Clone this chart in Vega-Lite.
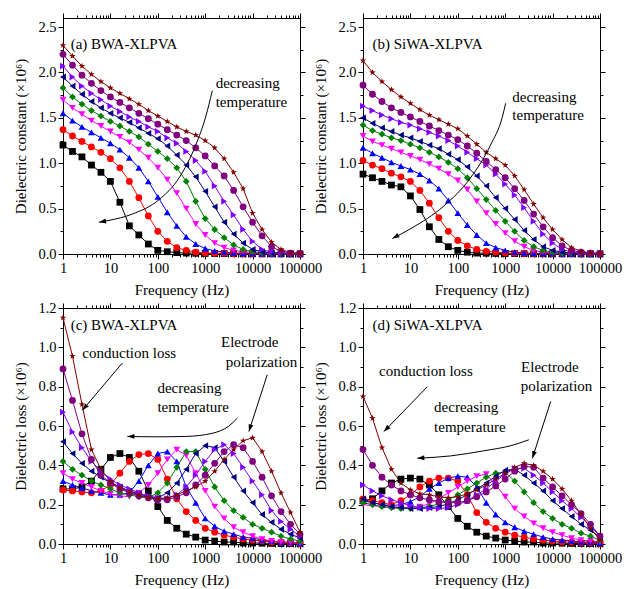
{
"$schema":"https://vega.github.io/schema/vega-lite/v6.json",
"autosize":{"type":"pad"},
"padding":{"left":13,"top":12,"right":0,"bottom":0},
"background":"white",
"datasets":{
"a":[
{"s":1,"f":1,"v":1.20},{"s":1,"f":1.585,"v":1.13},{"s":1,"f":2.512,"v":1.07},{"s":1,"f":3.981,"v":0.98},{"s":1,"f":6.31,"v":0.90},{"s":1,"f":10,"v":0.80},{"s":1,"f":15.85,"v":0.57},{"s":1,"f":25.12,"v":0.31},{"s":1,"f":39.81,"v":0.21},{"s":1,"f":63.1,"v":0.11},{"s":1,"f":100,"v":0.04},{"s":1,"f":158.5,"v":0.025},{"s":1,"f":251.2,"v":0.015},{"s":1,"f":398.1,"v":0.01},{"s":1,"f":631,"v":0.008},{"s":1,"f":1000,"v":0.006},{"s":1,"f":1585,"v":0.005},{"s":1,"f":2512,"v":0.004},{"s":1,"f":3981,"v":0.003},{"s":1,"f":6310,"v":0.002},{"s":1,"f":10000,"v":0.002},{"s":1,"f":15850,"v":0.001},{"s":1,"f":25120,"v":0.001},{"s":1,"f":39810,"v":0.001},{"s":1,"f":63100,"v":0},{"s":1,"f":100000,"v":0},
{"s":2,"f":1,"v":1.37},{"s":2,"f":1.585,"v":1.30},{"s":2,"f":2.512,"v":1.24},{"s":2,"f":3.981,"v":1.18},{"s":2,"f":6.31,"v":1.12},{"s":2,"f":10,"v":1.05},{"s":2,"f":15.85,"v":0.95},{"s":2,"f":25.12,"v":0.80},{"s":2,"f":39.81,"v":0.62},{"s":2,"f":63.1,"v":0.42},{"s":2,"f":100,"v":0.25},{"s":2,"f":158.5,"v":0.14},{"s":2,"f":251.2,"v":0.07},{"s":2,"f":398.1,"v":0.04},{"s":2,"f":631,"v":0.02},{"s":2,"f":1000,"v":0.01},{"s":2,"f":1585,"v":0.008},{"s":2,"f":2512,"v":0.006},{"s":2,"f":3981,"v":0.005},{"s":2,"f":6310,"v":0.004},{"s":2,"f":10000,"v":0.003},{"s":2,"f":15850,"v":0.002},{"s":2,"f":25120,"v":0.002},{"s":2,"f":39810,"v":0.001},{"s":2,"f":63100,"v":0.001},{"s":2,"f":100000,"v":0},
{"s":3,"f":1,"v":1.55},{"s":3,"f":1.585,"v":1.47},{"s":3,"f":2.512,"v":1.40},{"s":3,"f":3.981,"v":1.34},{"s":3,"f":6.31,"v":1.28},{"s":3,"f":10,"v":1.22},{"s":3,"f":15.85,"v":1.15},{"s":3,"f":25.12,"v":1.06},{"s":3,"f":39.81,"v":0.95},{"s":3,"f":63.1,"v":0.80},{"s":3,"f":100,"v":0.63},{"s":3,"f":158.5,"v":0.46},{"s":3,"f":251.2,"v":0.31},{"s":3,"f":398.1,"v":0.19},{"s":3,"f":631,"v":0.11},{"s":3,"f":1000,"v":0.06},{"s":3,"f":1585,"v":0.035},{"s":3,"f":2512,"v":0.02},{"s":3,"f":3981,"v":0.012},{"s":3,"f":6310,"v":0.008},{"s":3,"f":10000,"v":0.006},{"s":3,"f":15850,"v":0.004},{"s":3,"f":25120,"v":0.003},{"s":3,"f":39810,"v":0.002},{"s":3,"f":63100,"v":0.001},{"s":3,"f":100000,"v":0.001},
{"s":4,"f":1,"v":1.70},{"s":4,"f":1.585,"v":1.61},{"s":4,"f":2.512,"v":1.54},{"s":4,"f":3.981,"v":1.47},{"s":4,"f":6.31,"v":1.41},{"s":4,"f":10,"v":1.35},{"s":4,"f":15.85,"v":1.29},{"s":4,"f":25.12,"v":1.23},{"s":4,"f":39.81,"v":1.15},{"s":4,"f":63.1,"v":1.06},{"s":4,"f":100,"v":0.95},{"s":4,"f":158.5,"v":0.82},{"s":4,"f":251.2,"v":0.67},{"s":4,"f":398.1,"v":0.50},{"s":4,"f":631,"v":0.33},{"s":4,"f":1000,"v":0.21},{"s":4,"f":1585,"v":0.12},{"s":4,"f":2512,"v":0.07},{"s":4,"f":3981,"v":0.04},{"s":4,"f":6310,"v":0.025},{"s":4,"f":10000,"v":0.015},{"s":4,"f":15850,"v":0.01},{"s":4,"f":25120,"v":0.007},{"s":4,"f":39810,"v":0.005},{"s":4,"f":63100,"v":0.003},{"s":4,"f":100000,"v":0.002},
{"s":5,"f":1,"v":1.83},{"s":5,"f":1.585,"v":1.73},{"s":5,"f":2.512,"v":1.65},{"s":5,"f":3.981,"v":1.58},{"s":5,"f":6.31,"v":1.52},{"s":5,"f":10,"v":1.46},{"s":5,"f":15.85,"v":1.41},{"s":5,"f":25.12,"v":1.35},{"s":5,"f":39.81,"v":1.29},{"s":5,"f":63.1,"v":1.21},{"s":5,"f":100,"v":1.13},{"s":5,"f":158.5,"v":1.05},{"s":5,"f":251.2,"v":0.95},{"s":5,"f":398.1,"v":0.80},{"s":5,"f":631,"v":0.58},{"s":5,"f":1000,"v":0.39},{"s":5,"f":1585,"v":0.27},{"s":5,"f":2512,"v":0.18},{"s":5,"f":3981,"v":0.10},{"s":5,"f":6310,"v":0.05},{"s":5,"f":10000,"v":0.025},{"s":5,"f":15850,"v":0.015},{"s":5,"f":25120,"v":0.01},{"s":5,"f":39810,"v":0.006},{"s":5,"f":63100,"v":0.004},{"s":5,"f":100000,"v":0.003},
{"s":6,"f":1,"v":1.95},{"s":6,"f":1.585,"v":1.85},{"s":6,"f":2.512,"v":1.76},{"s":6,"f":3.981,"v":1.68},{"s":6,"f":6.31,"v":1.61},{"s":6,"f":10,"v":1.55},{"s":6,"f":15.85,"v":1.50},{"s":6,"f":25.12,"v":1.45},{"s":6,"f":39.81,"v":1.39},{"s":6,"f":63.1,"v":1.33},{"s":6,"f":100,"v":1.27},{"s":6,"f":158.5,"v":1.19},{"s":6,"f":251.2,"v":1.09},{"s":6,"f":398.1,"v":0.98},{"s":6,"f":631,"v":0.85},{"s":6,"f":1000,"v":0.69},{"s":6,"f":1585,"v":0.52},{"s":6,"f":2512,"v":0.35},{"s":6,"f":3981,"v":0.22},{"s":6,"f":6310,"v":0.12},{"s":6,"f":10000,"v":0.05},{"s":6,"f":15850,"v":0.025},{"s":6,"f":25120,"v":0.012},{"s":6,"f":39810,"v":0.008},{"s":6,"f":63100,"v":0.005},{"s":6,"f":100000,"v":0.003},
{"s":7,"f":1,"v":2.07},{"s":7,"f":1.585,"v":1.95},{"s":7,"f":2.512,"v":1.85},{"s":7,"f":3.981,"v":1.77},{"s":7,"f":6.31,"v":1.70},{"s":7,"f":10,"v":1.63},{"s":7,"f":15.85,"v":1.57},{"s":7,"f":25.12,"v":1.51},{"s":7,"f":39.81,"v":1.46},{"s":7,"f":63.1,"v":1.40},{"s":7,"f":100,"v":1.35},{"s":7,"f":158.5,"v":1.28},{"s":7,"f":251.2,"v":1.22},{"s":7,"f":398.1,"v":1.13},{"s":7,"f":631,"v":1.03},{"s":7,"f":1000,"v":0.91},{"s":7,"f":1585,"v":0.75},{"s":7,"f":2512,"v":0.58},{"s":7,"f":3981,"v":0.43},{"s":7,"f":6310,"v":0.27},{"s":7,"f":10000,"v":0.14},{"s":7,"f":15850,"v":0.05},{"s":7,"f":25120,"v":0.02},{"s":7,"f":39810,"v":0.01},{"s":7,"f":63100,"v":0.006},{"s":7,"f":100000,"v":0.004},
{"s":8,"f":1,"v":2.20},{"s":8,"f":1.585,"v":2.08},{"s":8,"f":2.512,"v":1.97},{"s":8,"f":3.981,"v":1.88},{"s":8,"f":6.31,"v":1.80},{"s":8,"f":10,"v":1.73},{"s":8,"f":15.85,"v":1.67},{"s":8,"f":25.12,"v":1.61},{"s":8,"f":39.81,"v":1.55},{"s":8,"f":63.1,"v":1.49},{"s":8,"f":100,"v":1.43},{"s":8,"f":158.5,"v":1.37},{"s":8,"f":251.2,"v":1.31},{"s":8,"f":398.1,"v":1.25},{"s":8,"f":631,"v":1.17},{"s":8,"f":1000,"v":1.08},{"s":8,"f":1585,"v":0.97},{"s":8,"f":2512,"v":0.86},{"s":8,"f":3981,"v":0.70},{"s":8,"f":6310,"v":0.52},{"s":8,"f":10000,"v":0.35},{"s":8,"f":15850,"v":0.20},{"s":8,"f":25120,"v":0.08},{"s":8,"f":39810,"v":0.03},{"s":8,"f":63100,"v":0.01},{"s":8,"f":100000,"v":0.006},
{"s":9,"f":1,"v":2.30},{"s":9,"f":1.585,"v":2.18},{"s":9,"f":2.512,"v":2.07},{"s":9,"f":3.981,"v":1.98},{"s":9,"f":6.31,"v":1.90},{"s":9,"f":10,"v":1.83},{"s":9,"f":15.85,"v":1.77},{"s":9,"f":25.12,"v":1.71},{"s":9,"f":39.81,"v":1.65},{"s":9,"f":63.1,"v":1.58},{"s":9,"f":100,"v":1.52},{"s":9,"f":158.5,"v":1.46},{"s":9,"f":251.2,"v":1.40},{"s":9,"f":398.1,"v":1.35},{"s":9,"f":631,"v":1.31},{"s":9,"f":1000,"v":1.25},{"s":9,"f":1585,"v":1.17},{"s":9,"f":2512,"v":1.05},{"s":9,"f":3981,"v":0.90},{"s":9,"f":6310,"v":0.72},{"s":9,"f":10000,"v":0.45},{"s":9,"f":15850,"v":0.27},{"s":9,"f":25120,"v":0.13},{"s":9,"f":39810,"v":0.05},{"s":9,"f":63100,"v":0.015},{"s":9,"f":100000,"v":0.008}
],
"b":[
{"s":1,"f":1,"v":0.88},{"s":1,"f":1.585,"v":0.84},{"s":1,"f":2.512,"v":0.80},{"s":1,"f":3.981,"v":0.76},{"s":1,"f":6.31,"v":0.74},{"s":1,"f":10,"v":0.64},{"s":1,"f":15.85,"v":0.49},{"s":1,"f":25.12,"v":0.30},{"s":1,"f":39.81,"v":0.16},{"s":1,"f":63.1,"v":0.08},{"s":1,"f":100,"v":0.04},{"s":1,"f":158.5,"v":0.02},{"s":1,"f":251.2,"v":0.01},{"s":1,"f":398.1,"v":0.008},{"s":1,"f":631,"v":0.006},{"s":1,"f":1000,"v":0.005},{"s":1,"f":1585,"v":0.004},{"s":1,"f":2512,"v":0.003},{"s":1,"f":3981,"v":0.002},{"s":1,"f":6310,"v":0.002},{"s":1,"f":10000,"v":0.001},{"s":1,"f":15850,"v":0.001},{"s":1,"f":25120,"v":0.001},{"s":1,"f":39810,"v":0},{"s":1,"f":63100,"v":0},{"s":1,"f":100000,"v":0},
{"s":2,"f":1,"v":1.03},{"s":2,"f":1.585,"v":0.98},{"s":2,"f":2.512,"v":0.94},{"s":2,"f":3.981,"v":0.89},{"s":2,"f":6.31,"v":0.85},{"s":2,"f":10,"v":0.80},{"s":2,"f":15.85,"v":0.70},{"s":2,"f":25.12,"v":0.56},{"s":2,"f":39.81,"v":0.40},{"s":2,"f":63.1,"v":0.25},{"s":2,"f":100,"v":0.15},{"s":2,"f":158.5,"v":0.09},{"s":2,"f":251.2,"v":0.05},{"s":2,"f":398.1,"v":0.03},{"s":2,"f":631,"v":0.02},{"s":2,"f":1000,"v":0.01},{"s":2,"f":1585,"v":0.008},{"s":2,"f":2512,"v":0.006},{"s":2,"f":3981,"v":0.005},{"s":2,"f":6310,"v":0.004},{"s":2,"f":10000,"v":0.003},{"s":2,"f":15850,"v":0.002},{"s":2,"f":25120,"v":0.002},{"s":2,"f":39810,"v":0.001},{"s":2,"f":63100,"v":0.001},{"s":2,"f":100000,"v":0},
{"s":3,"f":1,"v":1.17},{"s":3,"f":1.585,"v":1.11},{"s":3,"f":2.512,"v":1.06},{"s":3,"f":3.981,"v":1.01},{"s":3,"f":6.31,"v":0.97},{"s":3,"f":10,"v":0.93},{"s":3,"f":15.85,"v":0.88},{"s":3,"f":25.12,"v":0.81},{"s":3,"f":39.81,"v":0.72},{"s":3,"f":63.1,"v":0.59},{"s":3,"f":100,"v":0.45},{"s":3,"f":158.5,"v":0.32},{"s":3,"f":251.2,"v":0.21},{"s":3,"f":398.1,"v":0.12},{"s":3,"f":631,"v":0.07},{"s":3,"f":1000,"v":0.04},{"s":3,"f":1585,"v":0.02},{"s":3,"f":2512,"v":0.012},{"s":3,"f":3981,"v":0.008},{"s":3,"f":6310,"v":0.006},{"s":3,"f":10000,"v":0.004},{"s":3,"f":15850,"v":0.003},{"s":3,"f":25120,"v":0.002},{"s":3,"f":39810,"v":0.002},{"s":3,"f":63100,"v":0.001},{"s":3,"f":100000,"v":0.001},
{"s":4,"f":1,"v":1.30},{"s":4,"f":1.585,"v":1.24},{"s":4,"f":2.512,"v":1.20},{"s":4,"f":3.981,"v":1.16},{"s":4,"f":6.31,"v":1.12},{"s":4,"f":10,"v":1.08},{"s":4,"f":15.85,"v":1.04},{"s":4,"f":25.12,"v":0.99},{"s":4,"f":39.81,"v":0.94},{"s":4,"f":63.1,"v":0.88},{"s":4,"f":100,"v":0.81},{"s":4,"f":158.5,"v":0.71},{"s":4,"f":251.2,"v":0.58},{"s":4,"f":398.1,"v":0.45},{"s":4,"f":631,"v":0.33},{"s":4,"f":1000,"v":0.23},{"s":4,"f":1585,"v":0.14},{"s":4,"f":2512,"v":0.08},{"s":4,"f":3981,"v":0.04},{"s":4,"f":6310,"v":0.02},{"s":4,"f":10000,"v":0.012},{"s":4,"f":15850,"v":0.008},{"s":4,"f":25120,"v":0.005},{"s":4,"f":39810,"v":0.003},{"s":4,"f":63100,"v":0.002},{"s":4,"f":100000,"v":0.002},
{"s":5,"f":1,"v":1.42},{"s":5,"f":1.585,"v":1.36},{"s":5,"f":2.512,"v":1.32},{"s":5,"f":3.981,"v":1.28},{"s":5,"f":6.31,"v":1.25},{"s":5,"f":10,"v":1.21},{"s":5,"f":15.85,"v":1.17},{"s":5,"f":25.12,"v":1.12},{"s":5,"f":39.81,"v":1.07},{"s":5,"f":63.1,"v":1.01},{"s":5,"f":100,"v":0.94},{"s":5,"f":158.5,"v":0.84},{"s":5,"f":251.2,"v":0.72},{"s":5,"f":398.1,"v":0.60},{"s":5,"f":631,"v":0.48},{"s":5,"f":1000,"v":0.36},{"s":5,"f":1585,"v":0.25},{"s":5,"f":2512,"v":0.15},{"s":5,"f":3981,"v":0.08},{"s":5,"f":6310,"v":0.04},{"s":5,"f":10000,"v":0.02},{"s":5,"f":15850,"v":0.01},{"s":5,"f":25120,"v":0.007},{"s":5,"f":39810,"v":0.005},{"s":5,"f":63100,"v":0.003},{"s":5,"f":100000,"v":0.002},
{"s":6,"f":1,"v":1.50},{"s":6,"f":1.585,"v":1.44},{"s":6,"f":2.512,"v":1.39},{"s":6,"f":3.981,"v":1.35},{"s":6,"f":6.31,"v":1.31},{"s":6,"f":10,"v":1.28},{"s":6,"f":15.85,"v":1.24},{"s":6,"f":25.12,"v":1.20},{"s":6,"f":39.81,"v":1.16},{"s":6,"f":63.1,"v":1.10},{"s":6,"f":100,"v":1.04},{"s":6,"f":158.5,"v":0.96},{"s":6,"f":251.2,"v":0.86},{"s":6,"f":398.1,"v":0.75},{"s":6,"f":631,"v":0.62},{"s":6,"f":1000,"v":0.50},{"s":6,"f":1585,"v":0.38},{"s":6,"f":2512,"v":0.26},{"s":6,"f":3981,"v":0.16},{"s":6,"f":6310,"v":0.08},{"s":6,"f":10000,"v":0.04},{"s":6,"f":15850,"v":0.02},{"s":6,"f":25120,"v":0.01},{"s":6,"f":39810,"v":0.007},{"s":6,"f":63100,"v":0.004},{"s":6,"f":100000,"v":0.003},
{"s":7,"f":1,"v":1.63},{"s":7,"f":1.585,"v":1.58},{"s":7,"f":2.512,"v":1.53},{"s":7,"f":3.981,"v":1.49},{"s":7,"f":6.31,"v":1.45},{"s":7,"f":10,"v":1.42},{"s":7,"f":15.85,"v":1.38},{"s":7,"f":25.12,"v":1.34},{"s":7,"f":39.81,"v":1.30},{"s":7,"f":63.1,"v":1.25},{"s":7,"f":100,"v":1.19},{"s":7,"f":158.5,"v":1.12},{"s":7,"f":251.2,"v":1.05},{"s":7,"f":398.1,"v":0.98},{"s":7,"f":631,"v":0.88},{"s":7,"f":1000,"v":0.77},{"s":7,"f":1585,"v":0.65},{"s":7,"f":2512,"v":0.51},{"s":7,"f":3981,"v":0.36},{"s":7,"f":6310,"v":0.22},{"s":7,"f":10000,"v":0.12},{"s":7,"f":15850,"v":0.05},{"s":7,"f":25120,"v":0.02},{"s":7,"f":39810,"v":0.01},{"s":7,"f":63100,"v":0.006},{"s":7,"f":100000,"v":0.004},
{"s":8,"f":1,"v":1.86},{"s":8,"f":1.585,"v":1.76},{"s":8,"f":2.512,"v":1.68},{"s":8,"f":3.981,"v":1.61},{"s":8,"f":6.31,"v":1.56},{"s":8,"f":10,"v":1.51},{"s":8,"f":15.85,"v":1.46},{"s":8,"f":25.12,"v":1.41},{"s":8,"f":39.81,"v":1.36},{"s":8,"f":63.1,"v":1.31},{"s":8,"f":100,"v":1.26},{"s":8,"f":158.5,"v":1.19},{"s":8,"f":251.2,"v":1.11},{"s":8,"f":398.1,"v":1.02},{"s":8,"f":631,"v":0.93},{"s":8,"f":1000,"v":0.84},{"s":8,"f":1585,"v":0.72},{"s":8,"f":2512,"v":0.59},{"s":8,"f":3981,"v":0.44},{"s":8,"f":6310,"v":0.30},{"s":8,"f":10000,"v":0.18},{"s":8,"f":15850,"v":0.09},{"s":8,"f":25120,"v":0.04},{"s":8,"f":39810,"v":0.02},{"s":8,"f":63100,"v":0.01},{"s":8,"f":100000,"v":0.006},
{"s":9,"f":1,"v":2.13},{"s":9,"f":1.585,"v":2.00},{"s":9,"f":2.512,"v":1.90},{"s":9,"f":3.981,"v":1.81},{"s":9,"f":6.31,"v":1.73},{"s":9,"f":10,"v":1.66},{"s":9,"f":15.85,"v":1.59},{"s":9,"f":25.12,"v":1.53},{"s":9,"f":39.81,"v":1.48},{"s":9,"f":63.1,"v":1.43},{"s":9,"f":100,"v":1.38},{"s":9,"f":158.5,"v":1.30},{"s":9,"f":251.2,"v":1.21},{"s":9,"f":398.1,"v":1.12},{"s":9,"f":631,"v":1.05},{"s":9,"f":1000,"v":0.98},{"s":9,"f":1585,"v":0.86},{"s":9,"f":2512,"v":0.71},{"s":9,"f":3981,"v":0.55},{"s":9,"f":6310,"v":0.40},{"s":9,"f":10000,"v":0.27},{"s":9,"f":15850,"v":0.16},{"s":9,"f":25120,"v":0.07},{"s":9,"f":39810,"v":0.03},{"s":9,"f":63100,"v":0.012},{"s":9,"f":100000,"v":0.008}
],
"c":[
{"s":1,"f":1,"v":0.28},{"s":1,"f":1.585,"v":0.28},{"s":1,"f":2.512,"v":0.29},{"s":1,"f":3.981,"v":0.32},{"s":1,"f":6.31,"v":0.38},{"s":1,"f":10,"v":0.44},{"s":1,"f":15.85,"v":0.46},{"s":1,"f":25.12,"v":0.44},{"s":1,"f":39.81,"v":0.37},{"s":1,"f":63.1,"v":0.27},{"s":1,"f":100,"v":0.19},{"s":1,"f":158.5,"v":0.12},{"s":1,"f":251.2,"v":0.08},{"s":1,"f":398.1,"v":0.05},{"s":1,"f":631,"v":0.035},{"s":1,"f":1000,"v":0.02},{"s":1,"f":1585,"v":0.015},{"s":1,"f":2512,"v":0.01},{"s":1,"f":3981,"v":0.01},{"s":1,"f":6310,"v":0.005},{"s":1,"f":10000,"v":0.005},{"s":1,"f":15850,"v":0.004},{"s":1,"f":25120,"v":0.003},{"s":1,"f":39810,"v":0.002},{"s":1,"f":63100,"v":0.002},{"s":1,"f":100000,"v":0.001},
{"s":2,"f":1,"v":0.275},{"s":2,"f":1.585,"v":0.27},{"s":2,"f":2.512,"v":0.265},{"s":2,"f":3.981,"v":0.26},{"s":2,"f":6.31,"v":0.27},{"s":2,"f":10,"v":0.30},{"s":2,"f":15.85,"v":0.36},{"s":2,"f":25.12,"v":0.42},{"s":2,"f":39.81,"v":0.455},{"s":2,"f":63.1,"v":0.46},{"s":2,"f":100,"v":0.43},{"s":2,"f":158.5,"v":0.33},{"s":2,"f":251.2,"v":0.23},{"s":2,"f":398.1,"v":0.165},{"s":2,"f":631,"v":0.12},{"s":2,"f":1000,"v":0.08},{"s":2,"f":1585,"v":0.06},{"s":2,"f":2512,"v":0.045},{"s":2,"f":3981,"v":0.035},{"s":2,"f":6310,"v":0.025},{"s":2,"f":10000,"v":0.02},{"s":2,"f":15850,"v":0.015},{"s":2,"f":25120,"v":0.01},{"s":2,"f":39810,"v":0.008},{"s":2,"f":63100,"v":0.005},{"s":2,"f":100000,"v":0.003},
{"s":3,"f":1,"v":0.32},{"s":3,"f":1.585,"v":0.30},{"s":3,"f":2.512,"v":0.285},{"s":3,"f":3.981,"v":0.27},{"s":3,"f":6.31,"v":0.26},{"s":3,"f":10,"v":0.25},{"s":3,"f":15.85,"v":0.25},{"s":3,"f":25.12,"v":0.26},{"s":3,"f":39.81,"v":0.32},{"s":3,"f":63.1,"v":0.40},{"s":3,"f":100,"v":0.46},{"s":3,"f":158.5,"v":0.47},{"s":3,"f":251.2,"v":0.42},{"s":3,"f":398.1,"v":0.29},{"s":3,"f":631,"v":0.21},{"s":3,"f":1000,"v":0.13},{"s":3,"f":1585,"v":0.09},{"s":3,"f":2512,"v":0.065},{"s":3,"f":3981,"v":0.05},{"s":3,"f":6310,"v":0.035},{"s":3,"f":10000,"v":0.03},{"s":3,"f":15850,"v":0.02},{"s":3,"f":25120,"v":0.015},{"s":3,"f":39810,"v":0.01},{"s":3,"f":63100,"v":0.008},{"s":3,"f":100000,"v":0.005},
{"s":4,"f":1,"v":0.36},{"s":4,"f":1.585,"v":0.33},{"s":4,"f":2.512,"v":0.31},{"s":4,"f":3.981,"v":0.29},{"s":4,"f":6.31,"v":0.27},{"s":4,"f":10,"v":0.255},{"s":4,"f":15.85,"v":0.245},{"s":4,"f":25.12,"v":0.24},{"s":4,"f":39.81,"v":0.26},{"s":4,"f":63.1,"v":0.30},{"s":4,"f":100,"v":0.36},{"s":4,"f":158.5,"v":0.43},{"s":4,"f":251.2,"v":0.48},{"s":4,"f":398.1,"v":0.45},{"s":4,"f":631,"v":0.36},{"s":4,"f":1000,"v":0.27},{"s":4,"f":1585,"v":0.19},{"s":4,"f":2512,"v":0.13},{"s":4,"f":3981,"v":0.085},{"s":4,"f":6310,"v":0.06},{"s":4,"f":10000,"v":0.04},{"s":4,"f":15850,"v":0.025},{"s":4,"f":25120,"v":0.015},{"s":4,"f":39810,"v":0.01},{"s":4,"f":63100,"v":0.008},{"s":4,"f":100000,"v":0.005},
{"s":5,"f":1,"v":0.42},{"s":5,"f":1.585,"v":0.38},{"s":5,"f":2.512,"v":0.35},{"s":5,"f":3.981,"v":0.32},{"s":5,"f":6.31,"v":0.30},{"s":5,"f":10,"v":0.28},{"s":5,"f":15.85,"v":0.26},{"s":5,"f":25.12,"v":0.25},{"s":5,"f":39.81,"v":0.24},{"s":5,"f":63.1,"v":0.235},{"s":5,"f":100,"v":0.26},{"s":5,"f":158.5,"v":0.31},{"s":5,"f":251.2,"v":0.39},{"s":5,"f":398.1,"v":0.47},{"s":5,"f":631,"v":0.47},{"s":5,"f":1000,"v":0.38},{"s":5,"f":1585,"v":0.29},{"s":5,"f":2512,"v":0.22},{"s":5,"f":3981,"v":0.17},{"s":5,"f":6310,"v":0.135},{"s":5,"f":10000,"v":0.10},{"s":5,"f":15850,"v":0.08},{"s":5,"f":25120,"v":0.06},{"s":5,"f":39810,"v":0.04},{"s":5,"f":63100,"v":0.025},{"s":5,"f":100000,"v":0.015},
{"s":6,"f":1,"v":0.52},{"s":6,"f":1.585,"v":0.46},{"s":6,"f":2.512,"v":0.41},{"s":6,"f":3.981,"v":0.37},{"s":6,"f":6.31,"v":0.34},{"s":6,"f":10,"v":0.31},{"s":6,"f":15.85,"v":0.29},{"s":6,"f":25.12,"v":0.27},{"s":6,"f":39.81,"v":0.255},{"s":6,"f":63.1,"v":0.24},{"s":6,"f":100,"v":0.235},{"s":6,"f":158.5,"v":0.26},{"s":6,"f":251.2,"v":0.31},{"s":6,"f":398.1,"v":0.38},{"s":6,"f":631,"v":0.46},{"s":6,"f":1000,"v":0.50},{"s":6,"f":1585,"v":0.49},{"s":6,"f":2512,"v":0.42},{"s":6,"f":3981,"v":0.34},{"s":6,"f":6310,"v":0.27},{"s":6,"f":10000,"v":0.21},{"s":6,"f":15850,"v":0.15},{"s":6,"f":25120,"v":0.11},{"s":6,"f":39810,"v":0.075},{"s":6,"f":63100,"v":0.05},{"s":6,"f":100000,"v":0.03},
{"s":7,"f":1,"v":0.67},{"s":7,"f":1.585,"v":0.57},{"s":7,"f":2.512,"v":0.49},{"s":7,"f":3.981,"v":0.42},{"s":7,"f":6.31,"v":0.37},{"s":7,"f":10,"v":0.33},{"s":7,"f":15.85,"v":0.30},{"s":7,"f":25.12,"v":0.28},{"s":7,"f":39.81,"v":0.26},{"s":7,"f":63.1,"v":0.245},{"s":7,"f":100,"v":0.235},{"s":7,"f":158.5,"v":0.23},{"s":7,"f":251.2,"v":0.25},{"s":7,"f":398.1,"v":0.29},{"s":7,"f":631,"v":0.35},{"s":7,"f":1000,"v":0.42},{"s":7,"f":1585,"v":0.48},{"s":7,"f":2512,"v":0.505},{"s":7,"f":3981,"v":0.46},{"s":7,"f":6310,"v":0.39},{"s":7,"f":10000,"v":0.32},{"s":7,"f":15850,"v":0.25},{"s":7,"f":25120,"v":0.17},{"s":7,"f":39810,"v":0.115},{"s":7,"f":63100,"v":0.075},{"s":7,"f":100000,"v":0.04},
{"s":8,"f":1,"v":0.89},{"s":8,"f":1.585,"v":0.73},{"s":8,"f":2.512,"v":0.56},{"s":8,"f":3.981,"v":0.43},{"s":8,"f":6.31,"v":0.35},{"s":8,"f":10,"v":0.31},{"s":8,"f":15.85,"v":0.28},{"s":8,"f":25.12,"v":0.26},{"s":8,"f":39.81,"v":0.245},{"s":8,"f":63.1,"v":0.235},{"s":8,"f":100,"v":0.225},{"s":8,"f":158.5,"v":0.225},{"s":8,"f":251.2,"v":0.24},{"s":8,"f":398.1,"v":0.26},{"s":8,"f":631,"v":0.30},{"s":8,"f":1000,"v":0.35},{"s":8,"f":1585,"v":0.41},{"s":8,"f":2512,"v":0.47},{"s":8,"f":3981,"v":0.505},{"s":8,"f":6310,"v":0.49},{"s":8,"f":10000,"v":0.42},{"s":8,"f":15850,"v":0.34},{"s":8,"f":25120,"v":0.245},{"s":8,"f":39810,"v":0.165},{"s":8,"f":63100,"v":0.10},{"s":8,"f":100000,"v":0.05},
{"s":9,"f":1,"v":1.15},{"s":9,"f":1.585,"v":0.955},{"s":9,"f":2.512,"v":0.71},{"s":9,"f":3.981,"v":0.48},{"s":9,"f":6.31,"v":0.38},{"s":9,"f":10,"v":0.32},{"s":9,"f":15.85,"v":0.285},{"s":9,"f":25.12,"v":0.265},{"s":9,"f":39.81,"v":0.25},{"s":9,"f":63.1,"v":0.235},{"s":9,"f":100,"v":0.23},{"s":9,"f":158.5,"v":0.235},{"s":9,"f":251.2,"v":0.25},{"s":9,"f":398.1,"v":0.27},{"s":9,"f":631,"v":0.29},{"s":9,"f":1000,"v":0.32},{"s":9,"f":1585,"v":0.37},{"s":9,"f":2512,"v":0.43},{"s":9,"f":3981,"v":0.48},{"s":9,"f":6310,"v":0.525},{"s":9,"f":10000,"v":0.54},{"s":9,"f":15850,"v":0.47},{"s":9,"f":25120,"v":0.37},{"s":9,"f":39810,"v":0.26},{"s":9,"f":63100,"v":0.16},{"s":9,"f":100000,"v":0.06}
],
"d":[
{"s":1,"f":1,"v":0.22},{"s":1,"f":1.585,"v":0.23},{"s":1,"f":2.512,"v":0.27},{"s":1,"f":3.981,"v":0.31},{"s":1,"f":6.31,"v":0.33},{"s":1,"f":10,"v":0.335},{"s":1,"f":15.85,"v":0.33},{"s":1,"f":25.12,"v":0.30},{"s":1,"f":39.81,"v":0.25},{"s":1,"f":63.1,"v":0.19},{"s":1,"f":100,"v":0.13},{"s":1,"f":158.5,"v":0.09},{"s":1,"f":251.2,"v":0.06},{"s":1,"f":398.1,"v":0.04},{"s":1,"f":631,"v":0.03},{"s":1,"f":1000,"v":0.02},{"s":1,"f":1585,"v":0.015},{"s":1,"f":2512,"v":0.01},{"s":1,"f":3981,"v":0.01},{"s":1,"f":6310,"v":0.005},{"s":1,"f":10000,"v":0.005},{"s":1,"f":15850,"v":0.004},{"s":1,"f":25120,"v":0.003},{"s":1,"f":39810,"v":0.002},{"s":1,"f":63100,"v":0.002},{"s":1,"f":100000,"v":0.001},
{"s":2,"f":1,"v":0.23},{"s":2,"f":1.585,"v":0.22},{"s":2,"f":2.512,"v":0.21},{"s":2,"f":3.981,"v":0.20},{"s":2,"f":6.31,"v":0.22},{"s":2,"f":10,"v":0.25},{"s":2,"f":15.85,"v":0.29},{"s":2,"f":25.12,"v":0.32},{"s":2,"f":39.81,"v":0.335},{"s":2,"f":63.1,"v":0.335},{"s":2,"f":100,"v":0.32},{"s":2,"f":158.5,"v":0.25},{"s":2,"f":251.2,"v":0.16},{"s":2,"f":398.1,"v":0.11},{"s":2,"f":631,"v":0.08},{"s":2,"f":1000,"v":0.06},{"s":2,"f":1585,"v":0.045},{"s":2,"f":2512,"v":0.035},{"s":2,"f":3981,"v":0.025},{"s":2,"f":6310,"v":0.02},{"s":2,"f":10000,"v":0.015},{"s":2,"f":15850,"v":0.01},{"s":2,"f":25120,"v":0.01},{"s":2,"f":39810,"v":0.005},{"s":2,"f":63100,"v":0.005},{"s":2,"f":100000,"v":0.003},
{"s":3,"f":1,"v":0.22},{"s":3,"f":1.585,"v":0.21},{"s":3,"f":2.512,"v":0.20},{"s":3,"f":3.981,"v":0.195},{"s":3,"f":6.31,"v":0.20},{"s":3,"f":10,"v":0.215},{"s":3,"f":15.85,"v":0.24},{"s":3,"f":25.12,"v":0.28},{"s":3,"f":39.81,"v":0.31},{"s":3,"f":63.1,"v":0.335},{"s":3,"f":100,"v":0.345},{"s":3,"f":158.5,"v":0.34},{"s":3,"f":251.2,"v":0.29},{"s":3,"f":398.1,"v":0.21},{"s":3,"f":631,"v":0.15},{"s":3,"f":1000,"v":0.11},{"s":3,"f":1585,"v":0.085},{"s":3,"f":2512,"v":0.065},{"s":3,"f":3981,"v":0.05},{"s":3,"f":6310,"v":0.035},{"s":3,"f":10000,"v":0.025},{"s":3,"f":15850,"v":0.02},{"s":3,"f":25120,"v":0.015},{"s":3,"f":39810,"v":0.01},{"s":3,"f":63100,"v":0.01},{"s":3,"f":100000,"v":0.005},
{"s":4,"f":1,"v":0.20},{"s":4,"f":1.585,"v":0.195},{"s":4,"f":2.512,"v":0.19},{"s":4,"f":3.981,"v":0.185},{"s":4,"f":6.31,"v":0.185},{"s":4,"f":10,"v":0.185},{"s":4,"f":15.85,"v":0.19},{"s":4,"f":25.12,"v":0.205},{"s":4,"f":39.81,"v":0.23},{"s":4,"f":63.1,"v":0.26},{"s":4,"f":100,"v":0.29},{"s":4,"f":158.5,"v":0.32},{"s":4,"f":251.2,"v":0.345},{"s":4,"f":398.1,"v":0.355},{"s":4,"f":631,"v":0.30},{"s":4,"f":1000,"v":0.24},{"s":4,"f":1585,"v":0.18},{"s":4,"f":2512,"v":0.14},{"s":4,"f":3981,"v":0.105},{"s":4,"f":6310,"v":0.08},{"s":4,"f":10000,"v":0.06},{"s":4,"f":15850,"v":0.045},{"s":4,"f":25120,"v":0.03},{"s":4,"f":39810,"v":0.02},{"s":4,"f":63100,"v":0.015},{"s":4,"f":100000,"v":0.01},
{"s":5,"f":1,"v":0.21},{"s":5,"f":1.585,"v":0.20},{"s":5,"f":2.512,"v":0.19},{"s":5,"f":3.981,"v":0.185},{"s":5,"f":6.31,"v":0.18},{"s":5,"f":10,"v":0.18},{"s":5,"f":15.85,"v":0.185},{"s":5,"f":25.12,"v":0.19},{"s":5,"f":39.81,"v":0.205},{"s":5,"f":63.1,"v":0.225},{"s":5,"f":100,"v":0.25},{"s":5,"f":158.5,"v":0.28},{"s":5,"f":251.2,"v":0.31},{"s":5,"f":398.1,"v":0.34},{"s":5,"f":631,"v":0.36},{"s":5,"f":1000,"v":0.365},{"s":5,"f":1585,"v":0.32},{"s":5,"f":2512,"v":0.265},{"s":5,"f":3981,"v":0.21},{"s":5,"f":6310,"v":0.165},{"s":5,"f":10000,"v":0.13},{"s":5,"f":15850,"v":0.10},{"s":5,"f":25120,"v":0.08},{"s":5,"f":39810,"v":0.055},{"s":5,"f":63100,"v":0.04},{"s":5,"f":100000,"v":0.02},
{"s":6,"f":1,"v":0.23},{"s":6,"f":1.585,"v":0.21},{"s":6,"f":2.512,"v":0.20},{"s":6,"f":3.981,"v":0.19},{"s":6,"f":6.31,"v":0.185},{"s":6,"f":10,"v":0.18},{"s":6,"f":15.85,"v":0.18},{"s":6,"f":25.12,"v":0.185},{"s":6,"f":39.81,"v":0.19},{"s":6,"f":63.1,"v":0.205},{"s":6,"f":100,"v":0.225},{"s":6,"f":158.5,"v":0.25},{"s":6,"f":251.2,"v":0.28},{"s":6,"f":398.1,"v":0.31},{"s":6,"f":631,"v":0.345},{"s":6,"f":1000,"v":0.375},{"s":6,"f":1585,"v":0.38},{"s":6,"f":2512,"v":0.35},{"s":6,"f":3981,"v":0.31},{"s":6,"f":6310,"v":0.27},{"s":6,"f":10000,"v":0.22},{"s":6,"f":15850,"v":0.18},{"s":6,"f":25120,"v":0.14},{"s":6,"f":39810,"v":0.10},{"s":6,"f":63100,"v":0.07},{"s":6,"f":100000,"v":0.035},
{"s":7,"f":1,"v":0.30},{"s":7,"f":1.585,"v":0.27},{"s":7,"f":2.512,"v":0.245},{"s":7,"f":3.981,"v":0.225},{"s":7,"f":6.31,"v":0.21},{"s":7,"f":10,"v":0.195},{"s":7,"f":15.85,"v":0.185},{"s":7,"f":25.12,"v":0.18},{"s":7,"f":39.81,"v":0.18},{"s":7,"f":63.1,"v":0.185},{"s":7,"f":100,"v":0.20},{"s":7,"f":158.5,"v":0.22},{"s":7,"f":251.2,"v":0.25},{"s":7,"f":398.1,"v":0.28},{"s":7,"f":631,"v":0.32},{"s":7,"f":1000,"v":0.355},{"s":7,"f":1585,"v":0.385},{"s":7,"f":2512,"v":0.385},{"s":7,"f":3981,"v":0.35},{"s":7,"f":6310,"v":0.31},{"s":7,"f":10000,"v":0.265},{"s":7,"f":15850,"v":0.22},{"s":7,"f":25120,"v":0.18},{"s":7,"f":39810,"v":0.135},{"s":7,"f":63100,"v":0.09},{"s":7,"f":100000,"v":0.04},
{"s":8,"f":1,"v":0.48},{"s":8,"f":1.585,"v":0.40},{"s":8,"f":2.512,"v":0.34},{"s":8,"f":3.981,"v":0.30},{"s":8,"f":6.31,"v":0.27},{"s":8,"f":10,"v":0.25},{"s":8,"f":15.85,"v":0.235},{"s":8,"f":25.12,"v":0.225},{"s":8,"f":39.81,"v":0.215},{"s":8,"f":63.1,"v":0.21},{"s":8,"f":100,"v":0.21},{"s":8,"f":158.5,"v":0.22},{"s":8,"f":251.2,"v":0.24},{"s":8,"f":398.1,"v":0.265},{"s":8,"f":631,"v":0.295},{"s":8,"f":1000,"v":0.33},{"s":8,"f":1585,"v":0.37},{"s":8,"f":2512,"v":0.395},{"s":8,"f":3981,"v":0.39},{"s":8,"f":6310,"v":0.335},{"s":8,"f":10000,"v":0.29},{"s":8,"f":15850,"v":0.245},{"s":8,"f":25120,"v":0.20},{"s":8,"f":39810,"v":0.155},{"s":8,"f":63100,"v":0.10},{"s":8,"f":100000,"v":0.04},
{"s":9,"f":1,"v":0.75},{"s":9,"f":1.585,"v":0.64},{"s":9,"f":2.512,"v":0.49},{"s":9,"f":3.981,"v":0.38},{"s":9,"f":6.31,"v":0.31},{"s":9,"f":10,"v":0.275},{"s":9,"f":15.85,"v":0.255},{"s":9,"f":25.12,"v":0.25},{"s":9,"f":39.81,"v":0.24},{"s":9,"f":63.1,"v":0.235},{"s":9,"f":100,"v":0.24},{"s":9,"f":158.5,"v":0.255},{"s":9,"f":251.2,"v":0.275},{"s":9,"f":398.1,"v":0.30},{"s":9,"f":631,"v":0.33},{"s":9,"f":1000,"v":0.36},{"s":9,"f":1585,"v":0.39},{"s":9,"f":2512,"v":0.41},{"s":9,"f":3981,"v":0.40},{"s":9,"f":6310,"v":0.37},{"s":9,"f":10000,"v":0.33},{"s":9,"f":15850,"v":0.28},{"s":9,"f":25120,"v":0.22},{"s":9,"f":39810,"v":0.15},{"s":9,"f":63100,"v":0.08},{"s":9,"f":100000,"v":0.02}
]
},
"concat":[
{"width":237,"height":236,"layer":[
{"data":{"name":"a"},"mark":{"type":"line","strokeWidth":1},"encoding":{
"x":{"field":"f","type":"quantitative","scale":{"type":"log","domain":[1,100000]},"axis":{"orient":"bottom","title":"Frequency (Hz)","titlePadding":8,"values":[1,2,3,4,5,6,7,8,9,10,20,30,40,50,60,70,80,90,100,200,300,400,500,600,700,800,900,1000,2000,3000,4000,5000,6000,7000,8000,9000,10000,20000,30000,40000,50000,60000,70000,80000,90000,100000],"labelExpr":"indexof([1,10,100,1000,10000,100000], datum.value) >= 0 ? format(datum.value,'d') : ''","tickSize":{"condition":{"test":"indexof([1,10,100,1000,10000,100000], datum.value) >= 0","value":5},"value":3}}},
"y":{"field":"v","type":"quantitative","scale":{"domain":[0,2.5]},"axis":{"orient":"left","title":"Dielectric constant (×10⁶)","titlePadding":9,"values":[0,0.25,0.5,0.75,1,1.25,1.5,1.75,2,2.25,2.5],"labelExpr":"round(datum.value*4)%2==0 ? format(datum.value,'.1f') : ''","tickSize":{"condition":{"test":"round(datum.value*4)%2==0","value":5},"value":3}}},
"color":{"field":"s","type":"nominal","scale":{"domain":[1,2,3,4,5,6,7,8,9],"range":["#000000","#FF0000","#0000FF","#FF00FF","#008000","#000080","#8000FF","#800080","#800000"]},"legend":null}}},
{"data":{"name":"a"},"mark":{"type":"point","filled":true,"opacity":1,"size":46},"encoding":{
"x":{"field":"f","type":"quantitative","scale":{"type":"log"},"axis":{"orient":"top","title":null,"labels":false,"values":[1,2,3,4,5,6,7,8,9,10,20,30,40,50,60,70,80,90,100,200,300,400,500,600,700,800,900,1000,2000,3000,4000,5000,6000,7000,8000,9000,10000,20000,30000,40000,50000,60000,70000,80000,90000,100000],"tickSize":{"condition":{"test":"indexof([1,10,100,1000,10000,100000], datum.value) >= 0","value":5},"value":3}}},
"y":{"field":"v","type":"quantitative","axis":{"orient":"right","title":null,"labels":false,"values":[0,0.25,0.5,0.75,1,1.25,1.5,1.75,2,2.25,2.5],"tickSize":{"condition":{"test":"round(datum.value*4)%2==0","value":5},"value":3}}},
"color":{"field":"s","type":"nominal","scale":{"domain":[1,2,3,4,5,6,7,8,9],"range":["#000000","#FF0000","#0000FF","#FF00FF","#008000","#000080","#8000FF","#800080","#800000"]},"legend":null},
"shape":{"field":"s","type":"nominal","scale":{"domain":[1,2,3,4,5,6,7,8,9],"range":["square","circle","triangle-up","triangle-down","diamond","triangle-left","triangle-right","circle","M0,-1L0.235,-0.324L0.951,-0.309L0.38,0.124L0.588,0.809L0,0.4L-0.588,0.809L-0.38,0.124L-0.951,-0.309L-0.235,-0.324Z"]},"legend":null}}},
{"data":{"values":[{"f":1.45,"v":2.26,"t":"(a) BWA-XLPVA"},{"f":1660,"v":1.83,"t":"decreasing"},{"f":1660,"v":1.62,"t":"temperature"}]},"mark":{"type":"text","align":"left","baseline":"alphabetic"},"encoding":{"x":{"field":"f","type":"quantitative","scale":{"type":"log"},"axis":null},"y":{"field":"v","type":"quantitative","axis":null},"text":{"field":"t"}}},
{"data":{"values":[{"f":1413,"v":1.80},{"f":1023,"v":1.51},{"f":631,"v":1.20},{"f":282,"v":0.84},{"f":107,"v":0.60},{"f":29,"v":0.44},{"f":9.3,"v":0.37},{"f":5.75,"v":0.35}]},"mark":{"type":"line","color":"black","strokeWidth":1,"interpolate":"monotone"},"encoding":{"x":{"field":"f","type":"quantitative","scale":{"type":"log"},"axis":null},"y":{"field":"v","type":"quantitative","axis":null}}},
{"data":{"values":[{"f":5.75,"v":0.35}]},"mark":{"type":"point","shape":"M0,0L-0.7,2L0.7,2Z","filled":true,"opacity":1,"color":"black","size":49,"angle":260},"encoding":{"x":{"field":"f","type":"quantitative","scale":{"type":"log"},"axis":null},"y":{"field":"v","type":"quantitative","axis":null}}}
],"resolve":{"axis":{"x":"independent","y":"independent"}}},
{"width":237,"height":236,"layer":[
{"data":{"name":"b"},"mark":{"type":"line","strokeWidth":1},"encoding":{
"x":{"field":"f","type":"quantitative","scale":{"type":"log","domain":[1,100000]},"axis":{"orient":"bottom","title":"Frequency (Hz)","titlePadding":8,"values":[1,2,3,4,5,6,7,8,9,10,20,30,40,50,60,70,80,90,100,200,300,400,500,600,700,800,900,1000,2000,3000,4000,5000,6000,7000,8000,9000,10000,20000,30000,40000,50000,60000,70000,80000,90000,100000],"labelExpr":"indexof([1,10,100,1000,10000,100000], datum.value) >= 0 ? format(datum.value,'d') : ''","tickSize":{"condition":{"test":"indexof([1,10,100,1000,10000,100000], datum.value) >= 0","value":5},"value":3}}},
"y":{"field":"v","type":"quantitative","scale":{"domain":[0,2.5]},"axis":{"orient":"left","title":"Dielectric constant (×10⁶)","titlePadding":9,"values":[0,0.25,0.5,0.75,1,1.25,1.5,1.75,2,2.25,2.5],"labelExpr":"round(datum.value*4)%2==0 ? format(datum.value,'.1f') : ''","tickSize":{"condition":{"test":"round(datum.value*4)%2==0","value":5},"value":3}}},
"color":{"field":"s","type":"nominal","scale":{"domain":[1,2,3,4,5,6,7,8,9],"range":["#000000","#FF0000","#0000FF","#FF00FF","#008000","#000080","#8000FF","#800080","#800000"]},"legend":null}}},
{"data":{"name":"b"},"mark":{"type":"point","filled":true,"opacity":1,"size":46},"encoding":{
"x":{"field":"f","type":"quantitative","scale":{"type":"log"},"axis":{"orient":"top","title":null,"labels":false,"values":[1,2,3,4,5,6,7,8,9,10,20,30,40,50,60,70,80,90,100,200,300,400,500,600,700,800,900,1000,2000,3000,4000,5000,6000,7000,8000,9000,10000,20000,30000,40000,50000,60000,70000,80000,90000,100000],"tickSize":{"condition":{"test":"indexof([1,10,100,1000,10000,100000], datum.value) >= 0","value":5},"value":3}}},
"y":{"field":"v","type":"quantitative","axis":{"orient":"right","title":null,"labels":false,"values":[0,0.25,0.5,0.75,1,1.25,1.5,1.75,2,2.25,2.5],"tickSize":{"condition":{"test":"round(datum.value*4)%2==0","value":5},"value":3}}},
"color":{"field":"s","type":"nominal","scale":{"domain":[1,2,3,4,5,6,7,8,9],"range":["#000000","#FF0000","#0000FF","#FF00FF","#008000","#000080","#8000FF","#800080","#800000"]},"legend":null},
"shape":{"field":"s","type":"nominal","scale":{"domain":[1,2,3,4,5,6,7,8,9],"range":["square","circle","triangle-up","triangle-down","diamond","triangle-left","triangle-right","circle","M0,-1L0.235,-0.324L0.951,-0.309L0.38,0.124L0.588,0.809L0,0.4L-0.588,0.809L-0.38,0.124L-0.951,-0.309L-0.235,-0.324Z"]},"legend":null}}},
{"data":{"values":[{"f":1.58,"v":2.26,"t":"(b) SiWA-XLPVA"},{"f":1413,"v":1.68,"t":"decreasing"},{"f":1413,"v":1.48,"t":"temperature"}]},"mark":{"type":"text","align":"left","baseline":"alphabetic"},"encoding":{"x":{"field":"f","type":"quantitative","scale":{"type":"log"},"axis":null},"y":{"field":"v","type":"quantitative","axis":null},"text":{"field":"t"}}},
{"data":{"values":[{"f":1023,"v":1.66},{"f":871,"v":1.51},{"f":490,"v":1.20},{"f":186,"v":0.84},{"f":51,"v":0.53},{"f":10.2,"v":0.28},{"f":4.17,"v":0.17}]},"mark":{"type":"line","color":"black","strokeWidth":1,"interpolate":"monotone"},"encoding":{"x":{"field":"f","type":"quantitative","scale":{"type":"log"},"axis":null},"y":{"field":"v","type":"quantitative","axis":null}}},
{"data":{"values":[{"f":4.17,"v":0.17}]},"mark":{"type":"point","shape":"M0,0L-0.7,2L0.7,2Z","filled":true,"opacity":1,"color":"black","size":49,"angle":241},"encoding":{"x":{"field":"f","type":"quantitative","scale":{"type":"log"},"axis":null},"y":{"field":"v","type":"quantitative","axis":null}}}
],"resolve":{"axis":{"x":"independent","y":"independent"}}},
{"width":237,"height":236,"layer":[
{"data":{"name":"c"},"mark":{"type":"line","strokeWidth":1},"encoding":{
"x":{"field":"f","type":"quantitative","scale":{"type":"log","domain":[1,100000]},"axis":{"orient":"bottom","title":"Frequency (Hz)","titlePadding":8,"values":[1,2,3,4,5,6,7,8,9,10,20,30,40,50,60,70,80,90,100,200,300,400,500,600,700,800,900,1000,2000,3000,4000,5000,6000,7000,8000,9000,10000,20000,30000,40000,50000,60000,70000,80000,90000,100000],"labelExpr":"indexof([1,10,100,1000,10000,100000], datum.value) >= 0 ? format(datum.value,'d') : ''","tickSize":{"condition":{"test":"indexof([1,10,100,1000,10000,100000], datum.value) >= 0","value":5},"value":3}}},
"y":{"field":"v","type":"quantitative","scale":{"domain":[0,1.2]},"axis":{"orient":"left","title":"Dielectric loss (×10⁶)","titlePadding":9,"values":[0,0.1,0.2,0.3,0.4,0.5,0.6,0.7,0.8,0.9,1,1.1,1.2],"labelExpr":"round(datum.value*10)%2==0 ? format(datum.value,'.1f') : ''","tickSize":{"condition":{"test":"round(datum.value*10)%2==0","value":5},"value":3}}},
"color":{"field":"s","type":"nominal","scale":{"domain":[1,2,3,4,5,6,7,8,9],"range":["#000000","#FF0000","#0000FF","#FF00FF","#008000","#000080","#8000FF","#800080","#800000"]},"legend":null}}},
{"data":{"name":"c"},"mark":{"type":"point","filled":true,"opacity":1,"size":46},"encoding":{
"x":{"field":"f","type":"quantitative","scale":{"type":"log"},"axis":{"orient":"top","title":null,"labels":false,"values":[1,2,3,4,5,6,7,8,9,10,20,30,40,50,60,70,80,90,100,200,300,400,500,600,700,800,900,1000,2000,3000,4000,5000,6000,7000,8000,9000,10000,20000,30000,40000,50000,60000,70000,80000,90000,100000],"tickSize":{"condition":{"test":"indexof([1,10,100,1000,10000,100000], datum.value) >= 0","value":5},"value":3}}},
"y":{"field":"v","type":"quantitative","axis":{"orient":"right","title":null,"labels":false,"values":[0,0.1,0.2,0.3,0.4,0.5,0.6,0.7,0.8,0.9,1,1.1,1.2],"tickSize":{"condition":{"test":"round(datum.value*10)%2==0","value":5},"value":3}}},
"color":{"field":"s","type":"nominal","scale":{"domain":[1,2,3,4,5,6,7,8,9],"range":["#000000","#FF0000","#0000FF","#FF00FF","#008000","#000080","#8000FF","#800080","#800000"]},"legend":null},
"shape":{"field":"s","type":"nominal","scale":{"domain":[1,2,3,4,5,6,7,8,9],"range":["square","circle","triangle-up","triangle-down","diamond","triangle-left","triangle-right","circle","M0,-1L0.235,-0.324L0.951,-0.309L0.38,0.124L0.588,0.809L0,0.4L-0.588,0.809L-0.38,0.124L-0.951,-0.309L-0.235,-0.324Z"]},"legend":null}}},
{"data":{"values":[{"f":1.45,"v":1.087,"t":"(c) BWA-XLPVA"},{"f":2.56,"v":0.945,"t":"conduction loss"},{"f":98,"v":0.767,"t":"decreasing"},{"f":98,"v":0.67,"t":"temperature"}]},"mark":{"type":"text","align":"left","baseline":"alphabetic"},"encoding":{"x":{"field":"f","type":"quantitative","scale":{"type":"log"},"axis":null},"y":{"field":"v","type":"quantitative","axis":null},"text":{"field":"t"}}},
{"data":{"values":[{"f":8710,"v":1.0,"t":"Electrode"},{"f":15400,"v":0.90,"t":"polarization"}]},"mark":{"type":"text","align":"center","baseline":"alphabetic"},"encoding":{"x":{"field":"f","type":"quantitative","scale":{"type":"log"},"axis":null},"y":{"field":"v","type":"quantitative","axis":null},"text":{"field":"t"}}},
{"data":{"values":[{"id":1,"f":17.8,"v":0.92},{"id":1,"f":2.56,"v":0.68},{"id":2,"f":4786,"v":0.64},{"id":2,"f":3162,"v":0.60},{"id":2,"f":1413,"v":0.563},{"id":2,"f":389,"v":0.547},{"id":2,"f":91,"v":0.545},{"id":2,"f":22.8,"v":0.547},{"id":3,"f":20400,"v":0.861},{"id":3,"f":8350,"v":0.572}]},"mark":{"type":"line","color":"black","strokeWidth":1,"interpolate":"monotone"},"encoding":{"x":{"field":"f","type":"quantitative","scale":{"type":"log"},"axis":null},"y":{"field":"v","type":"quantitative","axis":null},"detail":{"field":"id"}}},
{"data":{"values":[{"f":2.56,"v":0.68}]},"mark":{"type":"point","shape":"M0,0L-0.7,2L0.7,2Z","filled":true,"opacity":1,"color":"black","size":49,"angle":221},"encoding":{"x":{"field":"f","type":"quantitative","scale":{"type":"log"},"axis":null},"y":{"field":"v","type":"quantitative","axis":null}}},
{"data":{"values":[{"f":22.8,"v":0.547}]},"mark":{"type":"point","shape":"M0,0L-0.7,2L0.7,2Z","filled":true,"opacity":1,"color":"black","size":49,"angle":270},"encoding":{"x":{"field":"f","type":"quantitative","scale":{"type":"log"},"axis":null},"y":{"field":"v","type":"quantitative","axis":null}}},
{"data":{"values":[{"f":8350,"v":0.572}]},"mark":{"type":"point","shape":"M0,0L-0.7,2L0.7,2Z","filled":true,"opacity":1,"color":"black","size":49,"angle":198},"encoding":{"x":{"field":"f","type":"quantitative","scale":{"type":"log"},"axis":null},"y":{"field":"v","type":"quantitative","axis":null}}}
],"resolve":{"axis":{"x":"independent","y":"independent"}}},
{"width":237,"height":236,"layer":[
{"data":{"name":"d"},"mark":{"type":"line","strokeWidth":1},"encoding":{
"x":{"field":"f","type":"quantitative","scale":{"type":"log","domain":[1,100000]},"axis":{"orient":"bottom","title":"Frequency (Hz)","titlePadding":8,"values":[1,2,3,4,5,6,7,8,9,10,20,30,40,50,60,70,80,90,100,200,300,400,500,600,700,800,900,1000,2000,3000,4000,5000,6000,7000,8000,9000,10000,20000,30000,40000,50000,60000,70000,80000,90000,100000],"labelExpr":"indexof([1,10,100,1000,10000,100000], datum.value) >= 0 ? format(datum.value,'d') : ''","tickSize":{"condition":{"test":"indexof([1,10,100,1000,10000,100000], datum.value) >= 0","value":5},"value":3}}},
"y":{"field":"v","type":"quantitative","scale":{"domain":[0,1.2]},"axis":{"orient":"left","title":"Dielectric loss (×10⁶)","titlePadding":9,"values":[0,0.1,0.2,0.3,0.4,0.5,0.6,0.7,0.8,0.9,1,1.1,1.2],"labelExpr":"round(datum.value*10)%2==0 ? format(datum.value,'.1f') : ''","tickSize":{"condition":{"test":"round(datum.value*10)%2==0","value":5},"value":3}}},
"color":{"field":"s","type":"nominal","scale":{"domain":[1,2,3,4,5,6,7,8,9],"range":["#000000","#FF0000","#0000FF","#FF00FF","#008000","#000080","#8000FF","#800080","#800000"]},"legend":null}}},
{"data":{"name":"d"},"mark":{"type":"point","filled":true,"opacity":1,"size":46},"encoding":{
"x":{"field":"f","type":"quantitative","scale":{"type":"log"},"axis":{"orient":"top","title":null,"labels":false,"values":[1,2,3,4,5,6,7,8,9,10,20,30,40,50,60,70,80,90,100,200,300,400,500,600,700,800,900,1000,2000,3000,4000,5000,6000,7000,8000,9000,10000,20000,30000,40000,50000,60000,70000,80000,90000,100000],"tickSize":{"condition":{"test":"indexof([1,10,100,1000,10000,100000], datum.value) >= 0","value":5},"value":3}}},
"y":{"field":"v","type":"quantitative","axis":{"orient":"right","title":null,"labels":false,"values":[0,0.1,0.2,0.3,0.4,0.5,0.6,0.7,0.8,0.9,1,1.1,1.2],"tickSize":{"condition":{"test":"round(datum.value*10)%2==0","value":5},"value":3}}},
"color":{"field":"s","type":"nominal","scale":{"domain":[1,2,3,4,5,6,7,8,9],"range":["#000000","#FF0000","#0000FF","#FF00FF","#008000","#000080","#8000FF","#800080","#800000"]},"legend":null},
"shape":{"field":"s","type":"nominal","scale":{"domain":[1,2,3,4,5,6,7,8,9],"range":["square","circle","triangle-up","triangle-down","diamond","triangle-left","triangle-right","circle","M0,-1L0.235,-0.324L0.951,-0.309L0.38,0.124L0.588,0.809L0,0.4L-0.588,0.809L-0.38,0.124L-0.951,-0.309L-0.235,-0.324Z"]},"legend":null}}},
{"data":{"values":[{"f":1.58,"v":1.087,"t":"(d) SiWA-XLPVA"},{"f":2.18,"v":0.852,"t":"conduction loss"},{"f":31.6,"v":0.67,"t":"decreasing"},{"f":31.6,"v":0.568,"t":"temperature"}]},"mark":{"type":"text","align":"left","baseline":"alphabetic"},"encoding":{"x":{"field":"f","type":"quantitative","scale":{"type":"log"},"axis":null},"y":{"field":"v","type":"quantitative","axis":null},"text":{"field":"t"}}},
{"data":{"values":[{"f":8750,"v":0.873,"t":"Electrode"},{"f":12100,"v":0.777,"t":"polarization"}]},"mark":{"type":"text","align":"center","baseline":"alphabetic"},"encoding":{"x":{"field":"f","type":"quantitative","scale":{"type":"log"},"axis":null},"y":{"field":"v","type":"quantitative","axis":null},"text":{"field":"t"}}},
{"data":{"values":[{"id":1,"f":22.9,"v":0.80},{"id":1,"f":2.77,"v":0.572},{"id":2,"f":3162,"v":0.53},{"id":2,"f":1318,"v":0.50},{"id":2,"f":355,"v":0.474},{"id":2,"f":71,"v":0.448},{"id":2,"f":14,"v":0.436},{"id":3,"f":9120,"v":0.725},{"id":3,"f":3740,"v":0.436}]},"mark":{"type":"line","color":"black","strokeWidth":1,"interpolate":"monotone"},"encoding":{"x":{"field":"f","type":"quantitative","scale":{"type":"log"},"axis":null},"y":{"field":"v","type":"quantitative","axis":null},"detail":{"field":"id"}}},
{"data":{"values":[{"f":2.77,"v":0.572}]},"mark":{"type":"point","shape":"M0,0L-0.7,2L0.7,2Z","filled":true,"opacity":1,"color":"black","size":49,"angle":224},"encoding":{"x":{"field":"f","type":"quantitative","scale":{"type":"log"},"axis":null},"y":{"field":"v","type":"quantitative","axis":null}}},
{"data":{"values":[{"f":14,"v":0.436}]},"mark":{"type":"point","shape":"M0,0L-0.7,2L0.7,2Z","filled":true,"opacity":1,"color":"black","size":49,"angle":266},"encoding":{"x":{"field":"f","type":"quantitative","scale":{"type":"log"},"axis":null},"y":{"field":"v","type":"quantitative","axis":null}}},
{"data":{"values":[{"f":3740,"v":0.436}]},"mark":{"type":"point","shape":"M0,0L-0.7,2L0.7,2Z","filled":true,"opacity":1,"color":"black","size":49,"angle":198},"encoding":{"x":{"field":"f","type":"quantitative","scale":{"type":"log"},"axis":null},"y":{"field":"v","type":"quantitative","axis":null}}}
],"resolve":{"axis":{"x":"independent","y":"independent"}}}
],
"columns":2,
"spacing":{"row":54,"column":63},
"bounds":"flush",
"config":{
"view":{"stroke":"black","strokeWidth":1},
"font":"Liberation Serif",
"axis":{"grid":false,"domainColor":"black","tickColor":"black","labelColor":"black","titleColor":"black","labelFont":"Liberation Serif","titleFont":"Liberation Serif","labelFontSize":14.5,"titleFontSize":15,"titleFontWeight":"normal","labelFontWeight":"normal","labelOverlap":false,"labelFlush":false,"labelPadding":2,"tickWidth":1,"domainWidth":1},
"text":{"font":"Liberation Serif","fontSize":15,"fontWeight":"normal","color":"black"}
}
}
